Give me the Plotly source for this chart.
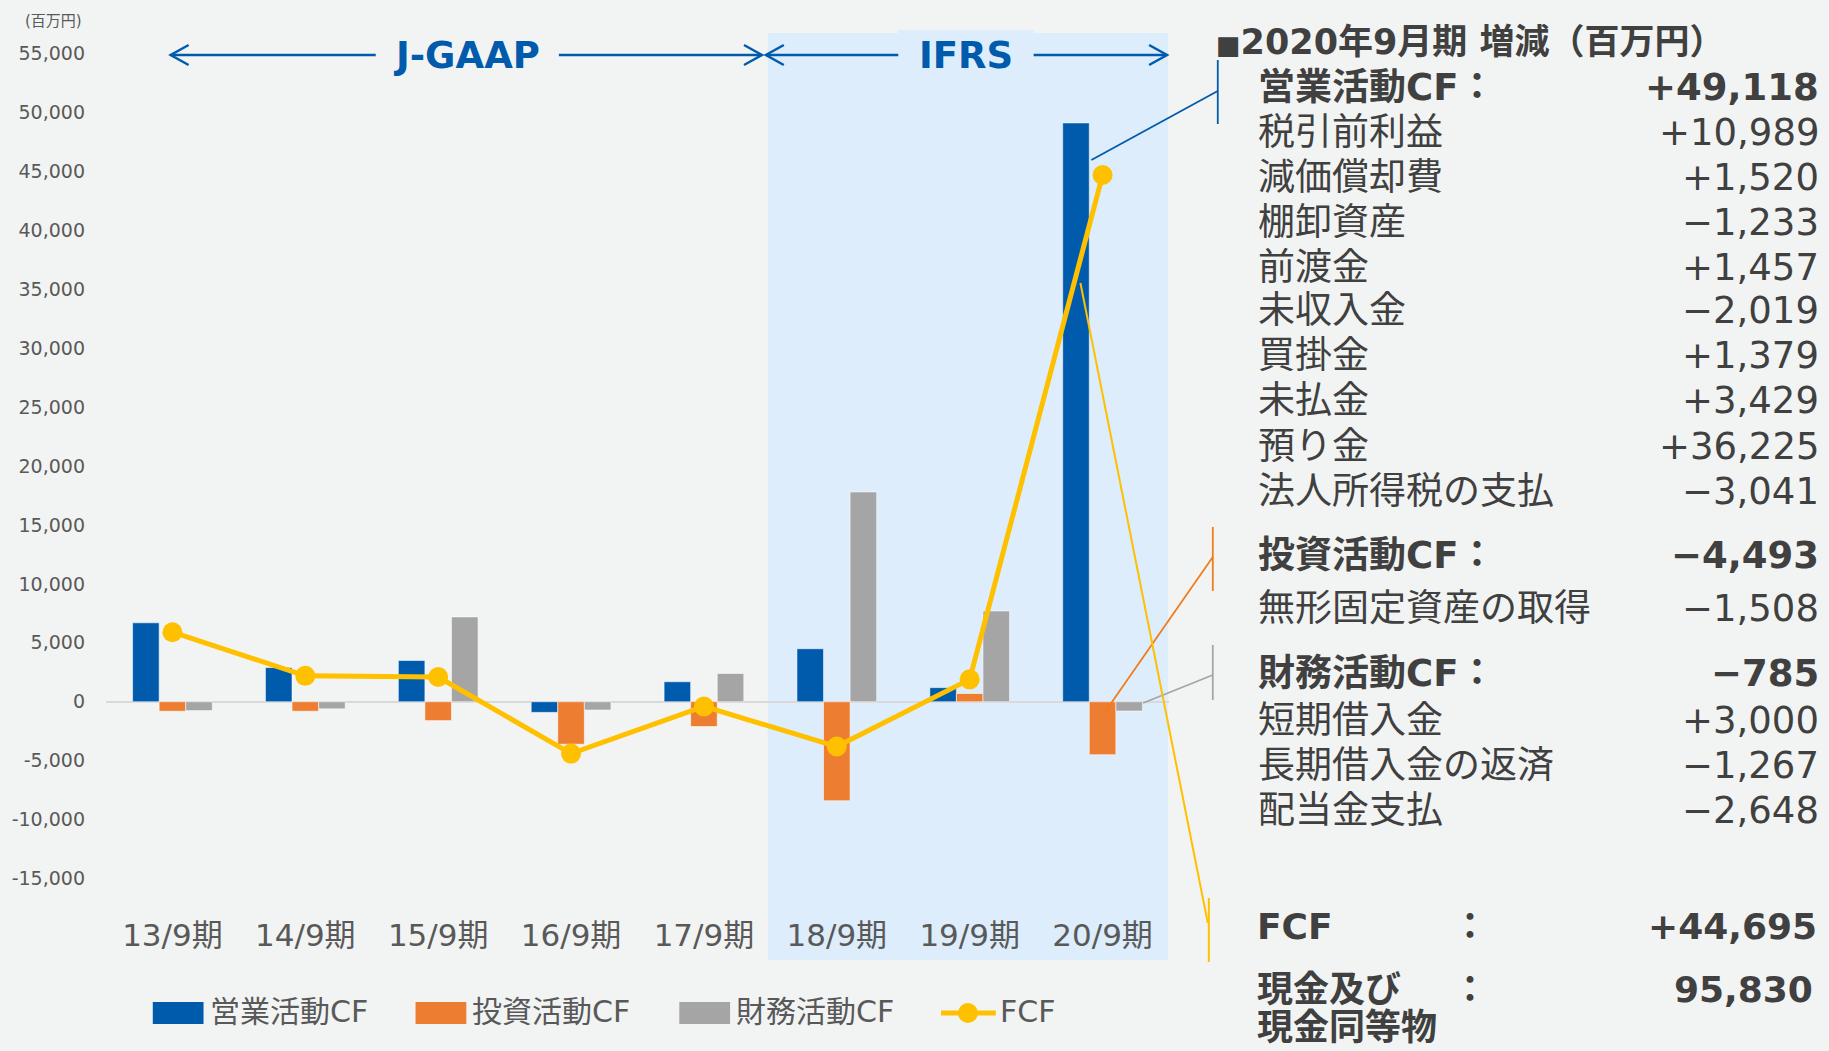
import plotly.graph_objects as go

# ---------------- data ----------------
categories = ["13/9期", "14/9期", "15/9期", "16/9期", "17/9期", "18/9期", "19/9期", "20/9期"]
operating_cf = [6700, 2900, 3500, -900, 1700, 4500, 1200, 49118]
investing_cf = [-800, -800, -1600, -3600, -2100, -8400, 700, -4493]
financing_cf = [-750, -600, 7200, -700, 2400, 17800, 7700, -785]
fcf = [5900, 2200, 2100, -4400, -400, -3800, 1900, 44695]

y_tickvals = [-15000, -10000, -5000, 0, 5000, 10000, 15000, 20000, 25000,
              30000, 35000, 40000, 45000, 50000, 55000]
y_ticktext = ["-15,000", "-10,000", "-5,000", "0", "5,000", "10,000", "15,000", "20,000",
              "25,000", "30,000", "35,000", "40,000", "45,000", "50,000", "55,000"]

series_names = ["営業活動CF", "投資活動CF", "財務活動CF", "FCF"]

panel_title = "2020年9月期 増減（百万円）"
panel_labels = ["営業活動CF：", "税引前利益", "減価償却費", "棚卸資産", "前渡金", "未収入金",
                "買掛金", "未払金", "預り金", "法人所得税の支払", "投資活動CF：",
                "無形固定資産の取得", "財務活動CF：", "短期借入金", "長期借入金の返済", "配当金支払"]
panel_values = ["+49,118", "+10,989", "+1,520", "−1,233", "+1,457", "−2,019", "+1,379",
                "+3,429", "+36,225", "−3,041", "−4,493", "−1,508", "−785", "+3,000",
                "−1,267", "−2,648"]
panel_bold = [True, False, False, False, False, False, False, False, False, False,
              True, False, True, False, False, False]
fcf_label = "FCF"
fcf_value = "+44,695"
cash_label_1 = "現金及び"
cash_label_2 = "現金同等物"
cash_value = "95,830"

# ---------------- styles / layout ----------------
W, H = 1829, 1051
ML, MR, MT, MB = 101, W - 1169, 30, H - 908
PW, PH = W - ML - MR, H - MT - MB

BG = "#F2F4F3"
BLUE = "#005BAC"
ORANGE = "#ED7D31"
GRAY = "#A5A5A5"
YELLOW = "#FFC000"
TXT = "#404040"
TICK = "#595959"
FONT = "DejaVu Sans, Noto Sans CJK JP, sans-serif"


def px(x):
    return (x - ML) / PW


def py(y):
    return (MT + PH - y) / PH


fig = go.Figure()

bar_line = dict(width=1, color="rgba(255,255,255,0.55)")
for name, vals, col in [(series_names[0], operating_cf, BLUE),
                        (series_names[1], investing_cf, ORANGE),
                        (series_names[2], financing_cf, GRAY)]:
    fig.add_trace(go.Bar(x=categories, y=vals, name=name, marker=dict(color=col, line=bar_line),
                         showlegend=False))

fig.add_trace(go.Scatter(x=categories, y=fcf, name=series_names[3], mode="lines+markers",
                         line=dict(color=YELLOW, width=5), marker=dict(size=20, color=YELLOW),
                         showlegend=False))

shapes = []
annotations = []

# IFRS shaded area
shapes.append(dict(type="rect", xref="paper", yref="paper", x0=px(766), x1=px(1168),
                   y0=py(960), y1=py(33), fillcolor="#DDEDFB", line=dict(width=0), layer="below"))
shapes.append(dict(type="rect", xref="paper", yref="paper", x0=px(897), x1=px(1033),
                   y0=py(40), y1=py(30), fillcolor="#DDEDFB", line=dict(width=0), layer="below"))


def hline(x0, x1, y, color, w=2.5):
    shapes.append(dict(type="line", xref="paper", yref="paper", x0=px(x0), x1=px(x1),
                       y0=py(y), y1=py(y), line=dict(color=color, width=w)))


def seg(x0, y0, x1, y1, color, w=1.8):
    shapes.append(dict(type="line", xref="paper", yref="paper", x0=px(x0), x1=px(x1),
                       y0=py(y0), y1=py(y1), line=dict(color=color, width=w)))


def chevron(xtip, y, direction, color):
    d = 18 * direction
    path = "M{},{} L{},{} L{},{}".format(px(xtip - d), py(y - 10), px(xtip), py(y),
                                         px(xtip - d), py(y + 10))
    shapes.append(dict(type="path", xref="paper", yref="paper", path=path,
                       line=dict(color=color, width=2.5)))


def text(t, x, y, size, color=TXT, anchor="left"):
    annotations.append(dict(text=t, x=px(x), y=py(y), xref="paper", yref="paper",
                            xanchor=anchor, yanchor="middle", showarrow=False,
                            font=dict(family=FONT, size=size, color=color)))


AY = 55
hline(166, 372, AY, BLUE)
hline(556, 760, AY, BLUE)
chevron(166, AY, -1, BLUE)
chevron(760, AY, 1, BLUE)
hline(764, 897, AY, BLUE)
hline(1033, 1167, AY, BLUE)
chevron(764, AY, -1, BLUE)
chevron(1167, AY, 1, BLUE)

text("<b>J-GAAP</b>", 463, AY, 37, BLUE, "center")
text("<b>IFRS</b>", 965, AY, 37, BLUE, "center")

# unit label
text("(百万円)", 18, 21, 15, TICK, "left")

# callout lines and brackets
seg(1091, 160, 1218, 91, BLUE)
seg(1218, 60, 1218, 124, BLUE)
seg(1104, 713, 1213, 557, "#F07D1C")
seg(1213, 527, 1213, 591, "#F07D1C")
seg(1143, 703, 1213, 675, GRAY)
seg(1213, 645, 1213, 700, GRAY)
seg(1080, 283, 1208, 923, YELLOW, 2)
seg(1209, 898, 1209, 962, YELLOW, 2)

# right panel
text('<b><span style="font-size:26px">■</span>' + panel_title + "</b>", 1214, 42, 35, TXT, "left")
row_y = [87, 132, 177, 222, 267, 311, 356, 401, 446, 491, 555, 608, 673, 720, 765, 810]
for lab, val, b, yy in zip(panel_labels, panel_values, panel_bold, row_y):
    lt = "<b>" + lab + "</b>" if b else lab
    vt = "<b>" + val + "</b>" if b else val
    text(lt, 1256, yy, 37, TXT, "left")
    text(vt, 1824, yy, 37, TXT, "right")

for txt, xx, yy, anc in [(fcf_label, 1255, 926, "left"), ("：", 1471, 926, "center"),
                         (fcf_value, 1822, 926, "right"), (cash_label_1, 1255, 989, "left"),
                         ("：", 1471, 989, "center"), (cash_value, 1818, 989, "right"),
                         (cash_label_2, 1255, 1027, "left")]:
    text("<b>" + txt + "</b>", xx, yy, 36, TXT, anc)

# legend (drawn manually to match the large swatches)
LY = 1013
for (x0, x1, col, tx), name in zip([(148, 199, BLUE, 203), (412, 463, ORANGE, 467),
                                    (677, 728, GRAY, 732)], series_names[:3]):
    shapes.append(dict(type="rect", xref="paper", yref="paper", x0=px(x0), x1=px(x1),
                       y0=py(LY + 11), y1=py(LY - 11), fillcolor=col, line=dict(width=0)))
    text(name, tx, LY - 2, 30, TICK, "left")
seg(940, LY, 995, LY, YELLOW, 5)
shapes.append(dict(type="circle", xref="paper", yref="paper", x0=px(957), x1=px(977),
                   y0=py(LY + 10), y1=py(LY - 10), fillcolor=YELLOW, line=dict(width=0)))
text(series_names[3], 997, LY - 2, 30, TICK, "left")

fig.update_layout(
    width=W, height=H,
    margin=dict(l=ML, r=MR, t=MT, b=MB, pad=0),
    paper_bgcolor=BG, plot_bgcolor="rgba(0,0,0,0)",
    barmode="group", bargap=0.4, bargroupgap=0,
    showlegend=False,
    shapes=shapes, annotations=annotations,
    font=dict(family=FONT, color=TICK),
)
fig.update_xaxes(type="category", showgrid=False, showline=False, ticks="",
                 tickfont=dict(family=FONT, size=31, color=TICK), ticklabelstandoff=6)
fig.update_yaxes(range=[-17500, 57000], tickvals=y_tickvals, ticktext=y_ticktext,
                 showgrid=False, zeroline=True, zerolinecolor="#D9D9D9", zerolinewidth=2,
                 showline=False, ticks="", ticklabelstandoff=20,
                 tickfont=dict(family=FONT, size=19, color=TICK))

fig.write_html("out.html", config={"displayModeBar": False},
               post_script="document.body.style.margin='0';document.body.style.overflow='hidden';")
